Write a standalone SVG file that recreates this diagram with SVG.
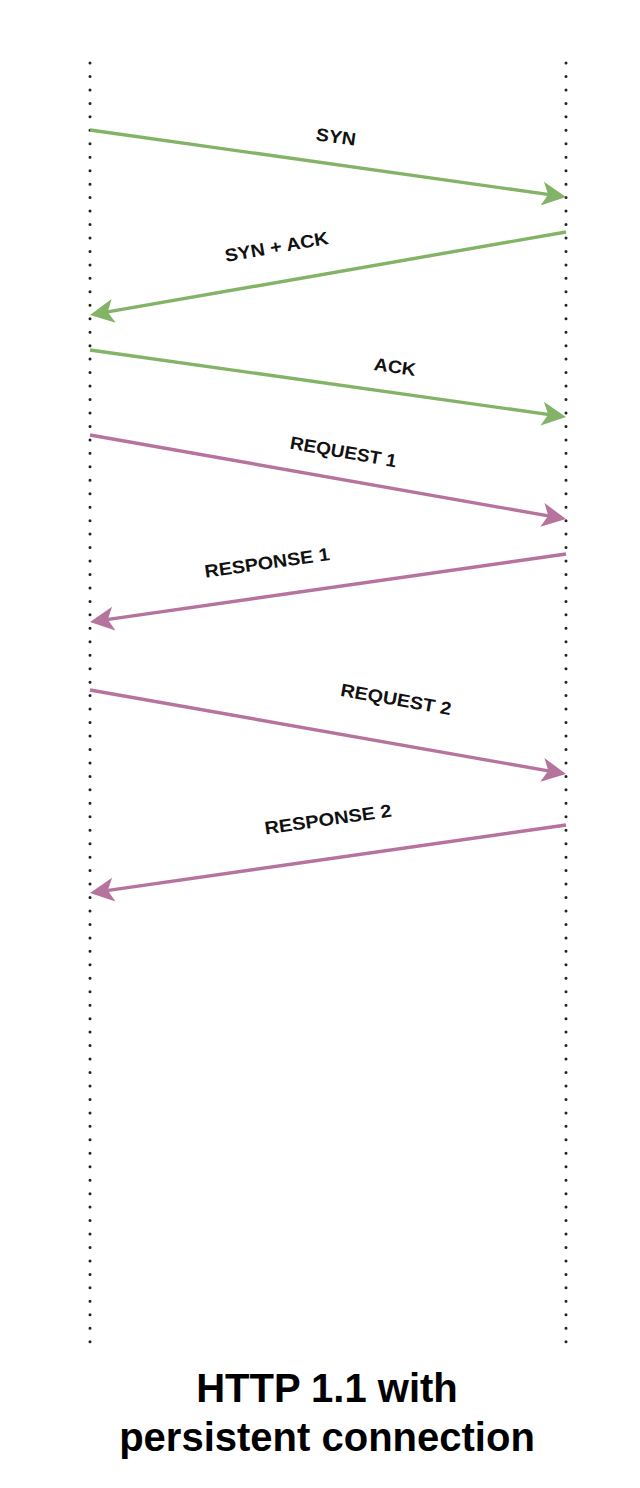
<svg xmlns="http://www.w3.org/2000/svg" width="640" height="1488" viewBox="0 0 640 1488">
<style>
.life{stroke:#222;stroke-width:3;stroke-linecap:round;stroke-dasharray:0 13.46;fill:none}
.g{stroke:#82b366;stroke-width:3.4;fill:none}
.p{stroke:#b5739d;stroke-width:3.4;fill:none}
.lbl{font-family:"Liberation Sans",Arial,Helvetica,sans-serif;font-weight:bold;font-size:18px;fill:#111;text-anchor:middle}
.title{font-family:"Liberation Sans",Arial,Helvetica,sans-serif;font-weight:bold;font-size:40px;fill:#000;text-anchor:middle}
</style>
<defs>
<marker id="ag" markerUnits="userSpaceOnUse" viewBox="-28 -15 30 30" markerWidth="30" markerHeight="30" refX="-15" refY="0" orient="auto">
<path d="M0,0 L-24,-12 L-18,0 L-24,12 Z" fill="#82b366"/>
</marker>
<marker id="ap" markerUnits="userSpaceOnUse" viewBox="-28 -15 30 30" markerWidth="30" markerHeight="30" refX="-15" refY="0" orient="auto">
<path d="M0,0 L-24,-12 L-18,0 L-24,12 Z" fill="#b5739d"/>
</marker>
</defs>
<rect width="640" height="1488" fill="#fff"/>
<g id="client">
<line class="life" x1="90" y1="63" x2="90" y2="1342"/>
</g>
<g id="server">
<line class="life" x1="566" y1="63" x2="566" y2="1342"/>
</g>
<g id="connectors">
<g id="syn">
<line class="g" x1="90" y1="130" x2="551.15" y2="194.91" marker-end="url(#ag)"/>
<text class="lbl" transform="translate(336,136.5) rotate(8)" y="6.5" textLength="40" lengthAdjust="spacingAndGlyphs">SYN</text>
</g>
<g id="synack">
<line class="g" x1="566" y1="232" x2="104.78" y2="312.42" marker-end="url(#ag)"/>
<text class="lbl" transform="translate(276.5,246.5) rotate(-9.9)" y="6.5" textLength="105" lengthAdjust="spacingAndGlyphs">SYN + ACK</text>
</g>
<g id="ack">
<line class="g" x1="90" y1="350" x2="551.15" y2="414.91" marker-end="url(#ag)"/>
<text class="lbl" transform="translate(395,366.5) rotate(8)" y="6.5" textLength="42" lengthAdjust="spacingAndGlyphs">ACK</text>
</g>
<g id="req1">
<line class="p" x1="90" y1="435" x2="551.23" y2="516.39" marker-end="url(#ap)"/>
<text class="lbl" transform="translate(343.5,451.5) rotate(10)" y="6.5" textLength="108" lengthAdjust="spacingAndGlyphs">REQUEST 1</text>
</g>
<g id="resp1">
<line class="p" x1="566" y1="554" x2="104.85" y2="619.88" marker-end="url(#ap)"/>
<text class="lbl" transform="translate(267,562.5) rotate(-8.1)" y="6.5" textLength="126" lengthAdjust="spacingAndGlyphs">RESPONSE 1</text>
</g>
<g id="req2">
<line class="p" x1="90" y1="690" x2="551.23" y2="771.39" marker-end="url(#ap)"/>
<text class="lbl" transform="translate(396,699) rotate(10)" y="6.5" textLength="112" lengthAdjust="spacingAndGlyphs">REQUEST 2</text>
</g>
<g id="resp2">
<line class="p" x1="566" y1="825" x2="104.85" y2="890.88" marker-end="url(#ap)"/>
<text class="lbl" transform="translate(328,819) rotate(-8.1)" y="6.5" textLength="128" lengthAdjust="spacingAndGlyphs">RESPONSE 2</text>
</g>
</g>
<g id="title">
<text class="title" x="327" y="1402">HTTP 1.1 with</text>
<text class="title" x="327" y="1451">persistent connection</text>
</g>
</svg>
